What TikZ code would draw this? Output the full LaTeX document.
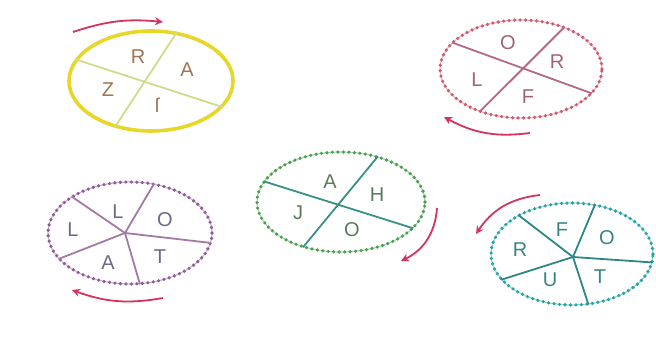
\documentclass[tikz,border=0pt]{standalone}
\usepackage{fontspec}
\setmainfont{Liberation Sans}
\usetikzlibrary{shapes.geometric,arrows.meta}
\definecolor{turnred}{RGB}{212,52,96}
\definecolor{ringyel}{RGB}{232,214,40}
\definecolor{spkyel}{RGB}{210,218,140}
\definecolor{letyel}{RGB}{160,118,82}
\definecolor{ringred}{RGB}{206,90,112}
\definecolor{spkred}{RGB}{180,104,134}
\definecolor{letred}{RGB}{160,100,112}
\definecolor{ringgrn}{RGB}{74,160,80}
\definecolor{spkgrn}{RGB}{56,144,134}
\definecolor{letgrn}{RGB}{92,122,92}
\definecolor{ringpur}{RGB}{146,88,156}
\definecolor{spkpur}{RGB}{164,122,164}
\definecolor{letpur}{RGB}{106,106,132}
\definecolor{ringcyn}{RGB}{36,164,164}
\definecolor{spkcyn}{RGB}{46,134,134}
\definecolor{letcyn}{RGB}{54,132,132}

\begin{document}
\begin{tikzpicture}[x=1pt,y=-1pt,
  wheel/.style={ellipse,inner sep=0pt,minimum width=162pt,minimum height=100pt},
  beads/.style={draw=#1!45,line width=1.2pt,postaction={draw=#1,line width=3.6pt,dash pattern=on 0pt off 5.5pt,line cap=round}},
  spoke/.style={line width=1.8pt},
  lett/.style={font=\fontsize{20}{20}\selectfont},
  arr/.style={-{Stealth[length=8pt,width=8pt]},line width=1.8pt,turnred}]
\useasboundingbox (0,0) rectangle (656,352);
% yellow wheel
\node[wheel,draw=ringyel,line width=3.6pt,minimum width=164pt] (w1) at (151,81) {};
\draw[spoke,spkyel] (w1.164) -- (w1.-20);
\draw[spoke,spkyel] (w1.62) -- (w1.232);
\node[lett,text=letyel] (w1a) at (138,57) {R};
\node[lett,text=letyel] (w1b) at (187,70) {A};
\node[lett,text=letyel] (w1c) at (108,90) {Z};
\node[lett,text=letyel] (w1d) at (157,105) {ſ};
% red wheel
\node[wheel,beads=ringred,minimum height=98pt] (w2) at (521,69) {};
\draw[spoke,spkred] (w2.159) -- (w2.-19);
\draw[spoke,spkred] (w2.44) -- (w2.226);
\node[lett,text=letred] (w2a) at (508,43) {O};
\node[lett,text=letred] (w2b) at (557,62) {R};
\node[lett,text=letred] (w2c) at (477,80) {L};
\node[lett,text=letred] (w2d) at (528,97) {F};
% green wheel
\node[wheel,beads=ringgrn,minimum width=168pt] (w3) at (341,202) {};
\draw[spoke,spkgrn] (w3.165) -- (w3.-20);
\draw[spoke,spkgrn] (w3.51) -- (w3.230);
\node[lett,text=letgrn] (w3a) at (330,182) {A};
\node[lett,text=letgrn] (w3b) at (377,195) {H};
\node[lett,text=letgrn] (w3c) at (298,213) {J};
\node[lett,text=letgrn] (w3d) at (352,230) {O};
% purple wheel
\node[wheel,beads=ringpur,minimum width=164pt,minimum height=102pt] (w4) at (130,233) {};
\coordinate (h4) at (125,233);
\foreach \a in {148,64,-7,-79,200} \draw[spoke,spkpur] (h4) -- (w4.\a);
\node[lett,text=letpur] (w4a) at (118,212) {L};
\node[lett,text=letpur] (w4b) at (165,220) {O};
\node[lett,text=letpur] (w4c) at (73,230) {L};
\node[lett,text=letpur] (w4d) at (108,263) {A};
\node[lett,text=letpur] (w4e) at (160,257) {T};
% teal wheel
\node[wheel,beads=ringcyn,minimum height=102pt] (w5) at (572,254) {};
\coordinate (h5) at (573,257);
\foreach \a in {144,65,-6,-72,200} \draw[spoke,spkcyn] (h5) -- (w5.\a);
\node[lett,text=letcyn] (w5a) at (562,230) {F};
\node[lett,text=letcyn] (w5b) at (607,238) {O};
\node[lett,text=letcyn] (w5c) at (520,250) {R};
\node[lett,text=letcyn] (w5d) at (550,280) {U};
\node[lett,text=letcyn] (w5e) at (600,277) {T};
% turn arrows
\coordinate (a1s) at (73,32);   \coordinate (a1e) at (163,22);
\coordinate (a2s) at (530,133); \coordinate (a2e) at (444,117);
\coordinate (a3s) at (437,208); \coordinate (a3e) at (401,261);
\coordinate (a4s) at (163,298); \coordinate (a4e) at (72,290);
\coordinate (a5s) at (540,195); \coordinate (a5e) at (476,234);
\draw[arr] (a1s) to[bend left=12] (a1e);
\draw[arr] (a2s) to[bend left=18] (a2e);
\draw[arr] (a3s) to[bend left=30] (a3e);
\draw[arr] (a4s) to[bend left=15] (a4e);
\draw[arr] (a5s) to[bend right=25] (a5e);
\end{tikzpicture}
\end{document}
